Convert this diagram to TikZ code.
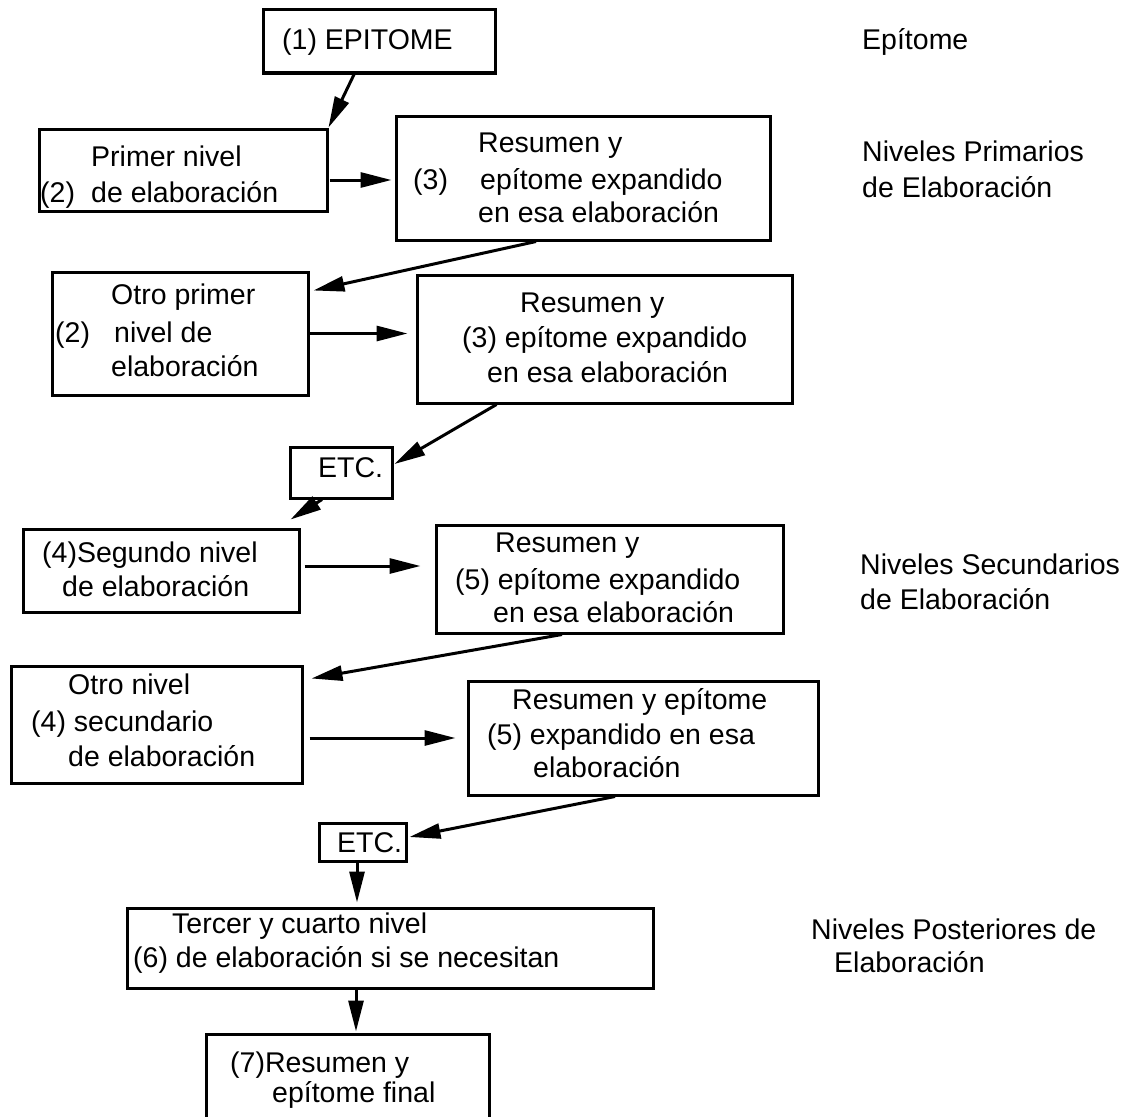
\documentclass[tikz,border=0pt]{standalone}
\usepackage{fontspec}
\setmainfont{Liberation Sans}
\usetikzlibrary{arrows.meta}
\begin{document}
\begin{tikzpicture}[x=1pt,y=-1pt,
  box/.style={draw,line width=3pt,inner sep=0pt},
  txt/.style={anchor=base west,inner sep=0pt,font=\fontsize{28.5}{34}\selectfont},
  arr/.style={line width=3pt,-{Triangle[length=31pt,width=15pt]}}]
\useasboundingbox[fill=white] (0,0) rectangle (1124,1116);
\clip (0,0) rectangle (1124,1116);
% boxes
\node[box,minimum width=232pt,minimum height=63pt] (b1) at (379,41.5) {};
\node[box,minimum width=288pt,minimum height=82pt] (b2) at (183,170) {};
\node[box,minimum width=374pt,minimum height=124pt] (b3) at (583,178) {};
\node[box,minimum width=256pt,minimum height=123pt] (b2b) at (180,333.5) {};
\node[box,minimum width=375pt,minimum height=128pt] (b3b) at (604.5,339) {};
\node[box,minimum width=102pt,minimum height=51pt] (e1) at (341,472.5) {};
\node[box,minimum width=276pt,minimum height=83pt] (b4) at (161,570.5) {};
\node[box,minimum width=347pt,minimum height=108pt] (b5) at (609.5,579) {};
\node[box,minimum width=291pt,minimum height=117pt] (b4b) at (156.5,724.5) {};
\node[box,minimum width=350pt,minimum height=114pt] (b5b) at (643,738) {};
\node[box,minimum width=87pt,minimum height=38pt] (e2) at (362.5,842) {};
\node[box,minimum width=526pt,minimum height=80pt] (b6) at (390,948) {};
\node[box,minimum width=283pt,minimum height=106pt] (b7) at (347.5,1087) {};
% box texts
\node[txt] (t1) at (282,49) {(1) EPITOME};
\node[txt] (t2a) at (91,166) {Primer nivel};
\node[txt] (t2b) at (40,202) {(2)};
\node[txt] (t2c) at (91,202) {de elaboración};
\node[txt] (t3a) at (478,152) {Resumen y};
\node[txt] (t3b) at (413,189) {(3)};
\node[txt] (t3c) at (480,189) {epítome expandido};
\node[txt] (t3d) at (478,222) {en esa elaboración};
\node[txt] (t4a) at (111,304) {Otro primer};
\node[txt] (t4b) at (55,342) {(2)};
\node[txt] (t4c) at (114,342) {nivel de};
\node[txt] (t4d) at (111,376) {elaboración};
\node[txt] (t5a) at (520,312) {Resumen y};
\node[txt] (t5b) at (462,347) {(3) epítome expandido};
\node[txt] (t5c) at (487,382) {en esa elaboración};
\node[txt] (te1) at (318,477) {ETC.};
\node[txt] (t6a) at (42,562) {(4)Segundo nivel};
\node[txt] (t6b) at (62,596) {de elaboración};
\node[txt] (t7a) at (495,552) {Resumen y};
\node[txt] (t7b) at (455,589) {(5) epítome expandido};
\node[txt] (t7c) at (493,622) {en esa elaboración};
\node[txt] (t8a) at (68,694) {Otro nivel};
\node[txt] (t8b) at (31,731) {(4) secundario};
\node[txt] (t8c) at (68,766) {de elaboración};
\node[txt] (t9a) at (512,709) {Resumen y epítome};
\node[txt] (t9b) at (487,744) {(5) expandido en esa};
\node[txt] (t9c) at (533,777) {elaboración};
\node[txt] (te2) at (337,852) {ETC.};
\node[txt] (t10a) at (172,933) {Tercer y cuarto nivel};
\node[txt] (t10b) at (133,967) {(6) de elaboración si se necesitan};
\node[txt] (t11a) at (230,1072) {(7)Resumen y};
\node[txt] (t11b) at (272,1102) {epítome final};
% side labels
\node[txt] (s1) at (862,49) {Epítome};
\node[txt] (s2a) at (862,161) {Niveles Primarios};
\node[txt] (s2b) at (862,197) {de Elaboración};
\node[txt] (s3a) at (860,574) {Niveles Secundarios};
\node[txt] (s3b) at (860,609) {de Elaboración};
\node[txt] (s4a) at (811,939) {Niveles Posteriores de};
\node[txt] (s4b) at (834,972) {Elaboración};
% connectors
\draw[arr] ([xshift=-25pt]b1.south) -- (b2.north east);
\draw[arr,shorten >=3pt] ([xshift=1pt,yshift=-10pt]b2.east) -- ([yshift=-10pt]b2.east -| b3.west);
\draw[arr] ([xshift=-47pt]b3.south) -- ([xshift=4pt,yshift=-20pt]b2b.north east);
\draw[arr,shorten >=8pt] (b2b.east) -- (b2b.east -| b3b.west);
\draw[arr] ([xshift=-108pt]b3b.south) -- ([xshift=1pt,yshift=8.5pt]e1.east);
\draw[arr] ([xshift=-19pt]e1.south) -- ([xshift=-10pt,yshift=8pt]b4.north east);
\draw[arr,shorten <=4pt,shorten >=14pt] ([yshift=4.5pt]b4.east) -- ([yshift=4.5pt]b4.east -| b5.west);
\draw[arr] ([xshift=-47.5pt]b5.south) -- ([xshift=8pt,yshift=-14pt]b4b.north east);
\draw[arr,shorten <=6pt,shorten >=11pt] ([yshift=-13.5pt]b4b.east) -- ([yshift=-13.5pt]b4b.east -| b5b.west);
\draw[arr] ([xshift=-28pt]b5b.south) -- ([xshift=2pt,yshift=5pt]e2.east);
\draw[arr,shorten >=4pt] ([xshift=-5.5pt]e2.south) -- ([xshift=-5.5pt]e2.south |- b6.north);
\draw[arr,shorten >=1pt] ([xshift=-34pt]b6.south) -- ([xshift=-34pt]b6.south |- b7.north);
\end{tikzpicture}
\end{document}
